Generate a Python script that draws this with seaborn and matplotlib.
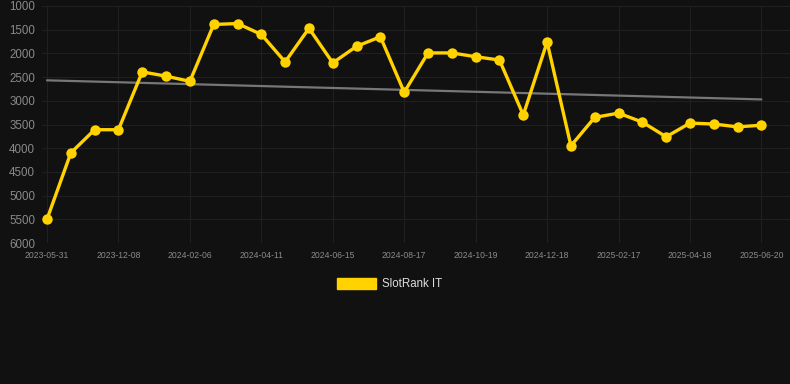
import numpy as np
import pandas as pd
import matplotlib
matplotlib.use('Agg')
import matplotlib.pyplot as plt
import seaborn as sns

# valores (rank, eixo invertido)
rank = [5500, 4100, 3610, 3610, 2390, 2480, 2590, 1390, 1370, 1600,
        2180, 1470, 2200, 1850, 1650, 2820, 1990, 1990, 2070, 2140,
        3300, 1760, 3950, 3350, 3260, 3450, 3760, 3470, 3490, 3550, 3515]
tick_labels = ['2023-05-31', '2023-12-08', '2024-02-06', '2024-04-11',
               '2024-06-15', '2024-08-17', '2024-10-19', '2024-12-18',
               '2025-02-17', '2025-04-18', '2025-06-20']
serie = 'SlotRank IT'

df = pd.DataFrame({'idx': np.arange(len(rank)), 'rank': rank})

# linha de tendencia (regressao linear)
coef = np.polyfit(df['idx'], df['rank'], 1)
df['trend'] = np.polyval(coef, df['idx'])

sns.set_theme(style='dark')
plt.rcParams['font.family'] = ['Liberation Sans', 'DejaVu Sans']

bg = '#111111'
fig = plt.figure(figsize=(7.9, 3.84), dpi=100, facecolor=bg)
ax = fig.add_axes([42 / 790, 1 - 243 / 384, 1 - 42 / 790, 237 / 384])
ax.set_facecolor(bg)

sns.lineplot(data=df, x='idx', y='trend', ax=ax, color='#777777', linewidth=1.6)
sns.lineplot(data=df, x='idx', y='rank', ax=ax, color='#FFD200', linewidth=2.4,
             marker='o', markersize=7.5, markeredgewidth=0, label=serie)

ax.set_xlim(-0.21, 31.2)
ax.set_ylim(6000, 1000)
ax.set_yticks(np.arange(1000, 6001, 500))
ax.set_xticks(np.arange(0, len(rank), 3))
ax.set_xticklabels(tick_labels)
ax.tick_params(axis='y', labelsize=8.3, colors='#8a8a8a', length=0, pad=5)
ax.tick_params(axis='x', labelsize=6.2, colors='#8a8a8a', length=0, pad=6)
ax.grid(True, color='#202020', linewidth=0.8)
ax.set_xlabel('')
ax.set_ylabel('')
for s in ax.spines.values():
    s.set_visible(False)

ax.legend_.remove()
handle = plt.Rectangle((0, 0), 1, 1, color='#FFD200')
fig.legend([handle], [serie], loc='center', bbox_to_anchor=(0.493, 1 - 284 / 384),
           frameon=False, handlelength=3.4, handleheight=1.1, handletextpad=0.5,
           fontsize=8.3, labelcolor='#dddddd')

plt.savefig('out.png', dpi=100, facecolor=bg)
